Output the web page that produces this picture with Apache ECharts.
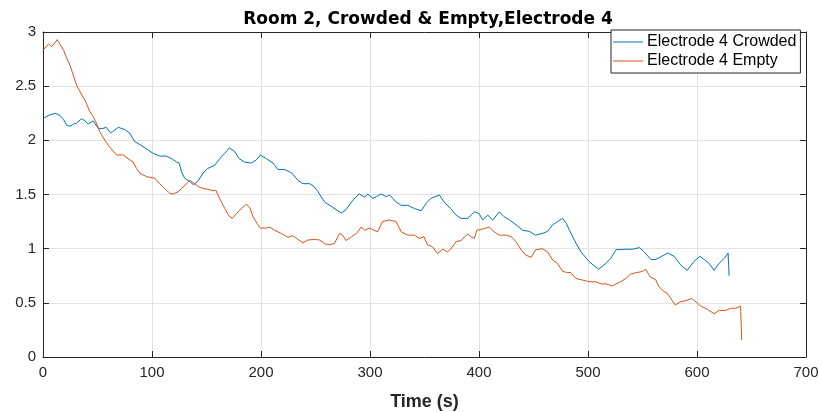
<!DOCTYPE html>
<html>
<head>
<meta charset="utf-8">
<script src="https://cdn.jsdelivr.net/npm/echarts@6/dist/echarts.min.js"></script>
<style>
html, body { margin: 0; padding: 0; background: #fff; }
#chart { width: 821px; height: 412px; }
</style>
</head>
<body>
<div id="chart"></div>
<script>
// [time (s), value]
var crowded = [
  [0, 2.20], [5, 2.23], [11, 2.25], [15.6, 2.23], [19, 2.19], [21.7, 2.14], [24.7, 2.13], [28, 2.15],
  [31, 2.16], [35.4, 2.20], [38.5, 2.18], [41.5, 2.15], [46, 2.18], [50.7, 2.11], [55, 2.11],
  [58, 2.12], [62, 2.07], [64, 2.08], [69, 2.12], [75, 2.10], [79.7, 2.065], [84, 1.99],
  [89, 1.96], [95, 1.92], [101, 1.88], [107, 1.855], [113, 1.855], [119, 1.825], [122.5, 1.80],
  [125, 1.79], [127, 1.71], [130, 1.65], [134.7, 1.62], [138, 1.59], [142, 1.62], [147, 1.70],
  [151, 1.74], [157.6, 1.77], [162, 1.83], [166.8, 1.88], [171, 1.93], [175.6, 1.90], [180, 1.83],
  [185, 1.80], [191, 1.79], [195.8, 1.82], [199.4, 1.865], [205, 1.83], [211, 1.79], [215.6, 1.73],
  [221.7, 1.73], [228, 1.70], [234, 1.63], [238.5, 1.60], [244.6, 1.60], [248, 1.58], [252, 1.53],
  [258.4, 1.43], [264.5, 1.39], [269, 1.36], [273.7, 1.33], [278, 1.36], [283, 1.43], [286, 1.465],
  [290, 1.505], [295, 1.475], [298, 1.505], [302.6, 1.465], [306, 1.48], [310, 1.505], [315, 1.48],
  [318, 1.495], [324, 1.43], [328.7, 1.40], [334.7, 1.40], [340.8, 1.37], [347, 1.35], [351.6, 1.42],
  [356, 1.465], [363.7, 1.495], [368, 1.43], [374, 1.37], [379, 1.31], [383.6, 1.28], [389.7, 1.28],
  [395.8, 1.34], [400, 1.325], [403.4, 1.265], [408, 1.31], [412.6, 1.265], [418.7, 1.34],
  [423, 1.295], [428, 1.265], [434, 1.22], [440, 1.17], [446, 1.16], [452, 1.125], [458, 1.14],
  [463, 1.16], [467.6, 1.22], [472, 1.25], [476.7, 1.28], [480, 1.235], [483, 1.17], [489, 1.05],
  [493.6, 0.97], [501, 0.88], [509.7, 0.81], [516.5, 0.865], [521, 0.91], [525.6, 0.99],
  [534.8, 0.995], [541, 0.995], [547, 1.01], [551.6, 0.97], [557.7, 0.90], [562, 0.90],
  [566.8, 0.925], [573, 0.96], [579, 0.93], [585, 0.85], [591, 0.80], [597, 0.88], [602.6, 0.93],
  [606.6, 0.90], [611, 0.865], [615.7, 0.80], [620.3, 0.865], [625, 0.91], [628.5, 0.96], [629.5, 0.75]
];
var empty = [
  [0, 2.83], [5, 2.89], [8, 2.865], [11, 2.90], [13, 2.93], [16, 2.88], [19, 2.83], [21.7, 2.76],
  [24.7, 2.695], [27.8, 2.60], [30.8, 2.51], [33.9, 2.45], [38.5, 2.37], [43, 2.265], [46, 2.22],
  [49, 2.16], [52, 2.08], [56.8, 2.00], [61, 1.94], [67.5, 1.865], [73.6, 1.865], [78, 1.83],
  [82.7, 1.80], [85.8, 1.74], [89, 1.695], [95, 1.665], [102.6, 1.65], [107, 1.60], [111.7, 1.555],
  [116.4, 1.51], [119.4, 1.505], [124, 1.525], [127, 1.555], [131.7, 1.60], [134.7, 1.63],
  [139, 1.60], [144, 1.565], [150, 1.55], [156, 1.535], [158.5, 1.54], [162, 1.465], [166.8, 1.37],
  [170.8, 1.30], [173.8, 1.28], [177.5, 1.325], [182, 1.37], [186.6, 1.41], [189.7, 1.38],
  [192.7, 1.295], [196.3, 1.235], [199.4, 1.19], [205, 1.19], [208, 1.20], [212.5, 1.17],
  [218.7, 1.14], [224.7, 1.105], [229, 1.12], [234, 1.085], [238.5, 1.055], [243, 1.08],
  [249, 1.085], [253.8, 1.08], [258.4, 1.045], [263, 1.035], [267.5, 1.05], [272, 1.14],
  [275, 1.125], [278, 1.075], [283, 1.11], [287.5, 1.14], [292, 1.20], [295, 1.17], [299.6, 1.19],
  [307, 1.155], [311.5, 1.25], [318, 1.265], [324, 1.25], [328.7, 1.155], [334.7, 1.125],
  [340.8, 1.125], [345, 1.095], [349.6, 1.11], [352.7, 1.035], [357, 1.02], [362, 0.955],
  [366.8, 0.995], [371, 0.97], [374, 0.995], [379, 1.065], [383.6, 1.075], [386.7, 1.11],
  [389.7, 1.135], [392.8, 1.11], [395.8, 1.095], [398, 1.17], [403, 1.18], [409.5, 1.20],
  [414, 1.155], [418.7, 1.125], [425, 1.125], [429.5, 1.11], [434, 1.065], [438.6, 0.99],
  [443, 0.94], [447.8, 0.92], [452, 0.99], [458, 1.00], [463, 0.97], [467.6, 0.895], [472, 0.865],
  [476.7, 0.79], [481, 0.78], [484, 0.78], [489, 0.725], [495, 0.71], [501, 0.695], [507, 0.695],
  [512, 0.675], [516.5, 0.675], [522.5, 0.655], [525.6, 0.675], [530, 0.695], [534.8, 0.725],
  [539, 0.765], [545, 0.78], [550, 0.79], [553, 0.81], [557, 0.74], [562, 0.715], [565, 0.65],
  [569.6, 0.605], [572.6, 0.59], [577, 0.525], [580, 0.48], [585, 0.51], [589.7, 0.52], [595, 0.54],
  [599, 0.51], [603.4, 0.47], [609.6, 0.44], [615.7, 0.40], [620.3, 0.43], [626.4, 0.43],
  [631, 0.45], [635.6, 0.45], [640, 0.47], [641, 0.155]
];
var seriesNames = ['Electrode 4 Crowded', 'Electrode 4 Empty'];
var lineColors = ['#0072BD', '#D95319'];

var chart = echarts.init(document.getElementById('chart'));
var axisColor = '#262626';
var font = 'Arial, "Liberation Sans", sans-serif';

function boxAxis(pos, isX, labels) {
  var ax = {
    type: 'value',
    position: pos,
    min: 0,
    max: isX ? 700 : 3,
    interval: isX ? 100 : 0.5,
    axisLine: { show: true, onZero: false, lineStyle: { color: axisColor, width: 1 } },
    axisTick: { show: true, inside: true, length: 6, lineStyle: { color: axisColor } },
    axisLabel: { show: labels, color: axisColor, fontFamily: font, fontSize: 15, margin: 8 },
    splitLine: { show: labels, lineStyle: { color: '#e3e3e3', width: 1 } }
  };
  return ax;
}

var xMain = boxAxis('bottom', true, true);
xMain.name = 'Time (s)';
xMain.nameLocation = 'middle';
xMain.nameGap = 36;
xMain.nameTextStyle = { color: axisColor, fontFamily: font, fontSize: 18, fontWeight: 'bold' };
var yMain = boxAxis('left', false, true);
yMain.axisLabel.margin = 7;

chart.setOption({
  animation: false,
  backgroundColor: '#fff',
  title: {
    text: 'Room 2, Crowded & Empty,Electrode 4',
    left: 423, top: 6, textAlign: 'center',
    textStyle: { color: '#000', fontFamily: '"DejaVu Sans", sans-serif', fontSize: 17, fontWeight: 'bold' }
  },
  legend: {
    orient: 'vertical',
    left: 611, top: 30,
    padding: [4, 4, 4, 2],
    itemGap: 3,
    itemWidth: 30,
    itemHeight: 1,
    icon: 'rect',
    backgroundColor: '#fff',
    borderColor: axisColor,
    borderWidth: 1,
    borderRadius: 0,
    textStyle: { color: '#000', fontFamily: font, fontSize: 16, padding: [0, 0, 0, -1] },
    data: seriesNames
  },
  grid: { left: 43, right: 15, top: 32, bottom: 55, containLabel: false, outerBoundsMode: 'none' },
  xAxis: [xMain, boxAxis('top', true, false)],
  yAxis: [yMain, boxAxis('right', false, false)],
  series: [
    { name: seriesNames[0], type: 'line', data: crowded, showSymbol: false, symbol: 'none',
      lineStyle: { color: lineColors[0], width: 1 }, itemStyle: { color: lineColors[0] } },
    { name: seriesNames[1], type: 'line', data: empty, showSymbol: false, symbol: 'none',
      lineStyle: { color: lineColors[1], width: 1 }, itemStyle: { color: lineColors[1] } }
  ]
});
</script>
</body>
</html>
